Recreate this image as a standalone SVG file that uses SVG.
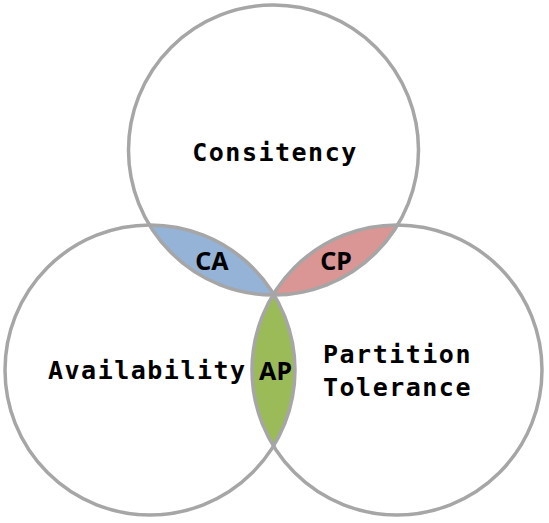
<svg xmlns="http://www.w3.org/2000/svg" width="549" height="523" viewBox="0 0 549 523">
<style>
.ring{fill:none;stroke:#A6A6A6;stroke-width:3.5}
.lbl{font-family:"DejaVu Sans Mono","Liberation Mono",monospace;font-weight:bold;font-size:25px;letter-spacing:1.5px;fill:#000}
.sub{font-family:"Noto Sans","Open Sans","Liberation Sans",sans-serif;font-weight:bold;font-size:25px;fill:#000;text-anchor:middle}
</style>
<rect width="549" height="523" fill="#fff"/>
<g id="lens-CA"><path d="M149.4,225 A145,145 0 0 0 273.5,295 A145,145 0 0 0 149.4,225 Z" fill="#95B3D7"/></g>
<g id="lens-CP"><path d="M397.6,225 A145,145 0 0 1 273.5,295 A145,145 0 0 1 397.6,225 Z" fill="#D99694"/></g>
<g id="lens-AP"><path d="M273.5,294 A145,145 0 0 1 273.5,446 A145,145 0 0 1 273.5,294 Z" fill="#9BBB59"/></g>
<g id="consistency"><circle class="ring" cx="273.5" cy="150" r="145"/><text class="lbl" x="275" y="161" text-anchor="middle">Consitency</text></g>
<g id="availability"><circle class="ring" cx="150" cy="370" r="145"/><text class="lbl" x="48" y="379">Availability</text></g>
<g id="partition"><circle class="ring" cx="397" cy="370" r="145"/><text class="lbl" x="323" y="363">Partition</text><text class="lbl" x="323" y="396">Tolerance</text></g>
<g id="labels"><text class="sub" x="212" y="270">CA</text><text class="sub" x="336" y="270">CP</text><text class="sub" x="275.5" y="380">AP</text></g>
</svg>
